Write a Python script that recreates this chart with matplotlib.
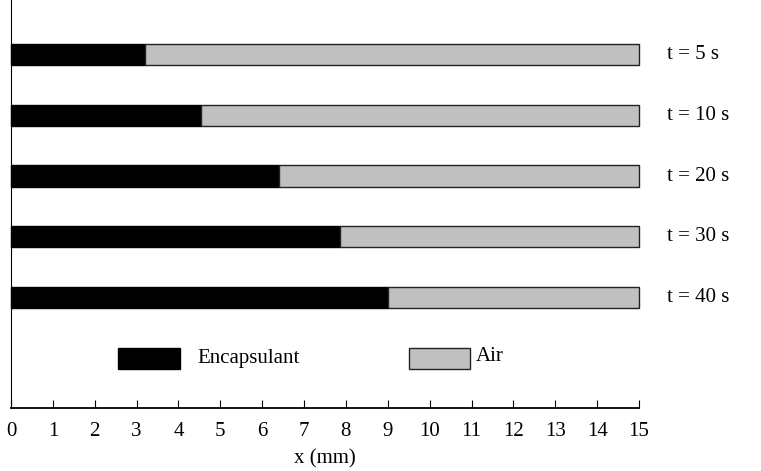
import matplotlib.pyplot as plt
from matplotlib.patches import Rectangle

# time snapshots and encapsulant front position (mm)
times = ['t = 5 s', 't = 10 s', 't = 20 s', 't = 30 s', 't = 40 s']
encapsulant = [3.2, 4.53, 6.4, 7.85, 9.0]
total_length = 15

plt.rcParams['font.family'] = ['Liberation Serif', 'DejaVu Serif']
plt.rcParams['font.size'] = 15

fig = plt.figure(figsize=(7.61, 4.71), dpi=100)
ax = fig.add_axes([11 / 761, 63 / 471, 628 / 761, 408 / 471])

# bars from top to bottom
ypos = [5 - i for i in range(len(times))]
air = [total_length - e for e in encapsulant]
ax.barh(ypos, encapsulant, height=0.35, color='black', edgecolor='black', linewidth=1, clip_on=False)
ax.barh(ypos, air, left=encapsulant, height=0.35, color='#c0c0c0', edgecolor='#222222', linewidth=1, clip_on=False)

for y, lab in zip(ypos, times):
    ax.text(15.68, y, lab, va='center', ha='left', clip_on=False)

# hand-made legend
ax.add_patch(Rectangle((2.56, -0.17), 1.48, 0.34, facecolor='black', edgecolor='black', lw=1))
ax.text(4.45, 0, 'Encapsulant', va='center', ha='left')
ax.add_patch(Rectangle((9.5, -0.17), 1.46, 0.34, facecolor='#c0c0c0', edgecolor='#222222', lw=1))
ax.text(11.1, 0.03, 'Air', va='center', ha='left')

ax.set_xlim(0, 15)
ax.set_ylim(-0.82, 5.9)
ax.set_xticks(range(0, 16))
ax.set_yticks([])
ax.spines['top'].set_visible(False)
ax.spines['right'].set_visible(False)
ax.spines['bottom'].set_linewidth(1.3)
ax.tick_params(axis='x', direction='in', length=6, pad=10)
ax.set_xlabel('x (mm)', labelpad=6)

fig.savefig('out.png', dpi=100)
